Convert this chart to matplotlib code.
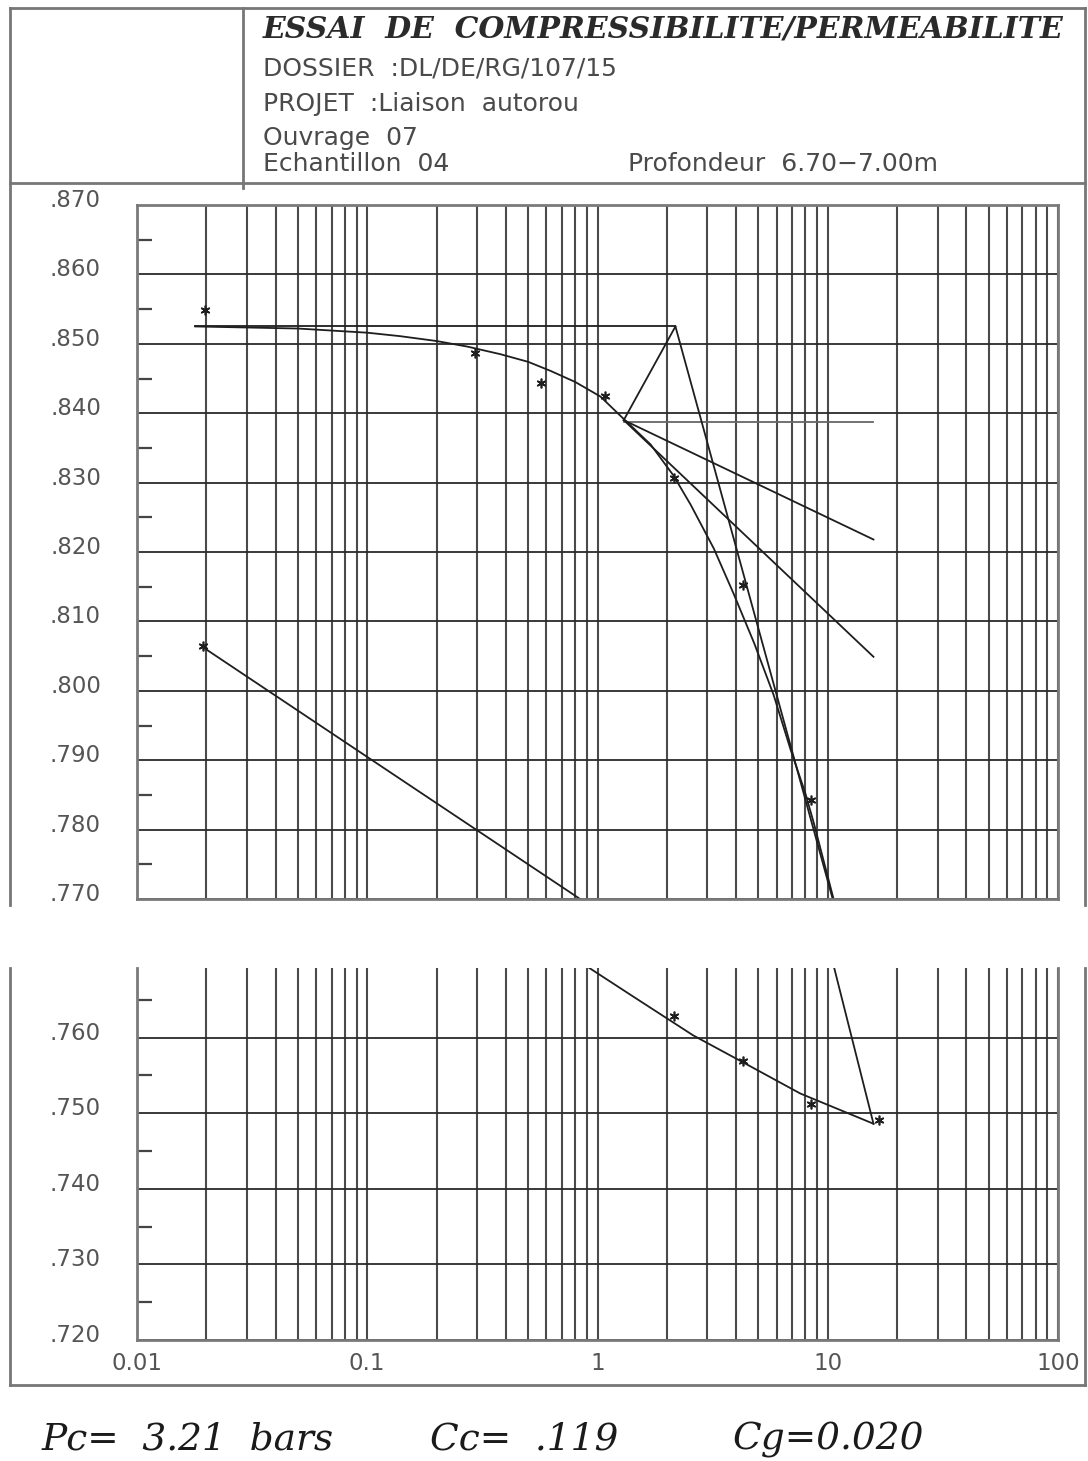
import matplotlib
matplotlib.use("Agg")
import matplotlib.pyplot as plt
import matplotlib.transforms as mtrans
from matplotlib.lines import Line2D
from matplotlib.ticker import FixedLocator, NullFormatter, LogLocator

# ---------------- data ----------------
# loading stages: pressure (bars) / void ratio
load_p = [0.0198, 0.295, 0.57, 1.08, 2.14, 4.3, 8.5, 16.7]
load_e = [0.8549, 0.8487, 0.8444, 0.8425, 0.8306, 0.8153, 0.7842, 0.7491]
# unloading stages
unload_p = [8.5, 4.3, 2.14, 0.0194]
unload_e = [0.7512, 0.7569, 0.7629, 0.8065]

# fitted compression curve
curve_p = [0.0179, 0.05, 0.1, 0.139, 0.2, 0.272, 0.379, 0.5, 0.625, 0.8, 1.03, 1.26, 1.7, 2.14, 2.54,
           3.2, 3.9, 4.8, 5.82, 6.9, 8.0, 8.69, 10.6]
curve_e = [0.8525, 0.8522, 0.8516, 0.8511, 0.8504, 0.8496, 0.8485, 0.8474, 0.8461, 0.8445, 0.8424,
           0.8396, 0.8355, 0.8310, 0.8268, 0.8205, 0.8140, 0.8068, 0.7994, 0.7915, 0.7852, 0.7810, 0.7700]

# rebound (unloading) curve
rebound_p = [0.0195, 0.2, 0.84, 1.4, 2.6, 4.3, 7.6, 15.8]
rebound_e = [0.8062, 0.7838, 0.7700, 0.7656, 0.7603, 0.7567, 0.7526, 0.7486]

# Casagrande construction
e0_line_p = [0.0179, 2.18]
e0_line_e = [0.8525, 0.8525]
apex_leg_p = [2.18, 1.3]
apex_leg_e = [0.8525, 0.8390]
horiz_p = [1.3, 15.8]
horiz_e = [0.8388, 0.8388]
tangent_p = [1.3, 15.8]
tangent_e = [0.8390, 0.8218]
bisector_p = [1.3, 15.8]
bisector_e = [0.8390, 0.8049]
virgin_p = [2.18, 15.8]
virgin_e = [0.8525, 0.7486]

# axis labels
upper_yticks = [0.870, 0.860, 0.850, 0.840, 0.830, 0.820, 0.810, 0.800, 0.790, 0.780, 0.770]
lower_yticks = [0.760, 0.750, 0.740, 0.730, 0.720]
x_ticks = [0.01, 0.1, 1, 10, 100]
x_ticklabels = ["0.01", "0.1", "1", "10", "100"]

title = "ESSAI  DE  COMPRESSIBILITE/PERMEABILITE"
header_lines = ["DOSSIER  :DL/DE/RG/107/15", "PROJET  :Liaison  autorou", "Ouvrage  07", "Echantillon  04"]
depth_text = "Profondeur  6.70\u22127.00m"
results = ["Pc=  3.21  bars", "Cc=  .119", "Cg=0.020"]

# ---------------- layout ----------------
W, H = 1088, 1461
DPI = 100
fig = plt.figure(figsize=(W / DPI, H / DPI), dpi=DPI)
fig.patch.set_facecolor("white")


def rect(l, t, r, b):
    return [l / W, 1 - b / H, (r - l) / W, (b - t) / H]


def fx(x):
    return x / W


def fy(y):
    return 1 - y / H


ax_up = fig.add_axes(rect(137, 205, 1058, 899))
ax_lo = fig.add_axes(rect(137, 968, 1058, 1340))

GRID_V = "#4a4a4a"
GRID_H = "#2a2a2a"
SPINE = "#7a7a7a"
INK = "#1e1e1e"
LABEL = "#555555"

label_shift = mtrans.ScaledTranslation(0, 0.07, fig.dpi_scale_trans)

for ax, ylim, yt in ((ax_up, (0.770, 0.870), upper_yticks), (ax_lo, (0.720, 0.7692), lower_yticks)):
    ax.set_xscale("log")
    ax.set_xlim(0.01, 100)
    ax.set_ylim(*ylim)
    ax.xaxis.set_major_locator(FixedLocator(x_ticks))
    ax.xaxis.set_minor_locator(LogLocator(base=10, subs=[2, 3, 4, 5, 6, 7, 8, 9], numticks=20))
    ax.xaxis.set_minor_formatter(NullFormatter())
    ax.grid(True, axis="x", which="both", color=GRID_V, lw=1.5)
    ax.set_yticks(yt)
    ax.set_yticklabels([("%.3f" % v)[1:] for v in yt])
    minors = [v + 0.005 for v in yt if v + 0.005 < ylim[1]]
    ax.yaxis.set_minor_locator(FixedLocator(minors))
    ax.grid(True, axis="y", which="major", color=GRID_H, lw=1.3)
    ax.tick_params(axis="y", which="major", length=0, pad=26, labelsize=16.5, labelcolor=LABEL)
    ax.tick_params(axis="y", which="minor", direction="in", length=11, width=1.6, color="#444444")
    ax.tick_params(axis="x", which="both", length=0)
    for lab in ax.get_yticklabels():
        lab.set_transform(lab.get_transform() + label_shift)
    for s in ax.spines.values():
        s.set_color(SPINE)
        s.set_linewidth(2)
    ax.set_axisbelow(True)

    # curves and construction lines
    kw = dict(color=INK, lw=1.3)
    ax.plot(curve_p, curve_e, **kw)
    ax.plot(rebound_p, rebound_e, **kw)
    ax.plot(e0_line_p, e0_line_e, **kw)
    ax.plot(apex_leg_p, apex_leg_e, **kw)
    ax.plot(horiz_p, horiz_e, color="#666666", lw=1.3)
    ax.plot(tangent_p, tangent_e, **kw)
    ax.plot(bisector_p, bisector_e, **kw)
    ax.plot(virgin_p, virgin_e, **kw)
    ax.plot(load_p, load_e, ls="none", marker=(6, 2, 0), ms=7, mew=1.2, color=INK)
    ax.plot(unload_p, unload_e, ls="none", marker=(6, 2, 0), ms=7, mew=1.2, color=INK)

ax_up.tick_params(axis="x", which="both", labelbottom=False)
ax_lo.spines["top"].set_visible(False)
ax_lo.set_xticklabels(x_ticklabels)
ax_lo.tick_params(axis="x", which="major", pad=9, labelsize=16.5, labelcolor=LABEL)

# ---------------- frame ----------------
FRAME = "#777777"


def hline(y, x0, x1, lw=2.0):
    fig.add_artist(Line2D([fx(x0), fx(x1)], [fy(y), fy(y)], color=FRAME, lw=lw))


def vline(x, y0, y1, lw=2.0):
    fig.add_artist(Line2D([fx(x), fx(x)], [fy(y0), fy(y1)], color=FRAME, lw=lw))


hline(8, 10, 1085)
hline(183, 10, 1085)
hline(1385, 10, 1085)
vline(10, 8, 905)
vline(10, 968, 1385)
vline(1085, 8, 905)
vline(1085, 968, 1385)
vline(243, 8, 188)

# ---------------- header texts ----------------
fig.text(fx(263), fy(29), title, fontsize=21.5, fontweight="bold", fontstyle="italic",
         family="DejaVu Serif", color="#2a2a2a", va="center", ha="left")
ys = [68, 104, 138, 164]
for y, s in zip(ys, header_lines):
    fig.text(fx(263), fy(y), s, fontsize=18, family="DejaVu Sans", color="#4a4a4a",
             va="center", ha="left")
fig.text(fx(628), fy(164), depth_text, fontsize=18, family="DejaVu Sans", color="#4a4a4a",
         va="center", ha="left")

# ---------------- results ----------------
for x, s in zip([42, 430, 733], results):
    fig.text(fx(x), fy(1440), s, fontsize=27, fontstyle="italic", family="DejaVu Serif",
             color="#1a1a1a", va="center", ha="left")

fig.savefig("out.png", dpi=DPI, facecolor="white")
